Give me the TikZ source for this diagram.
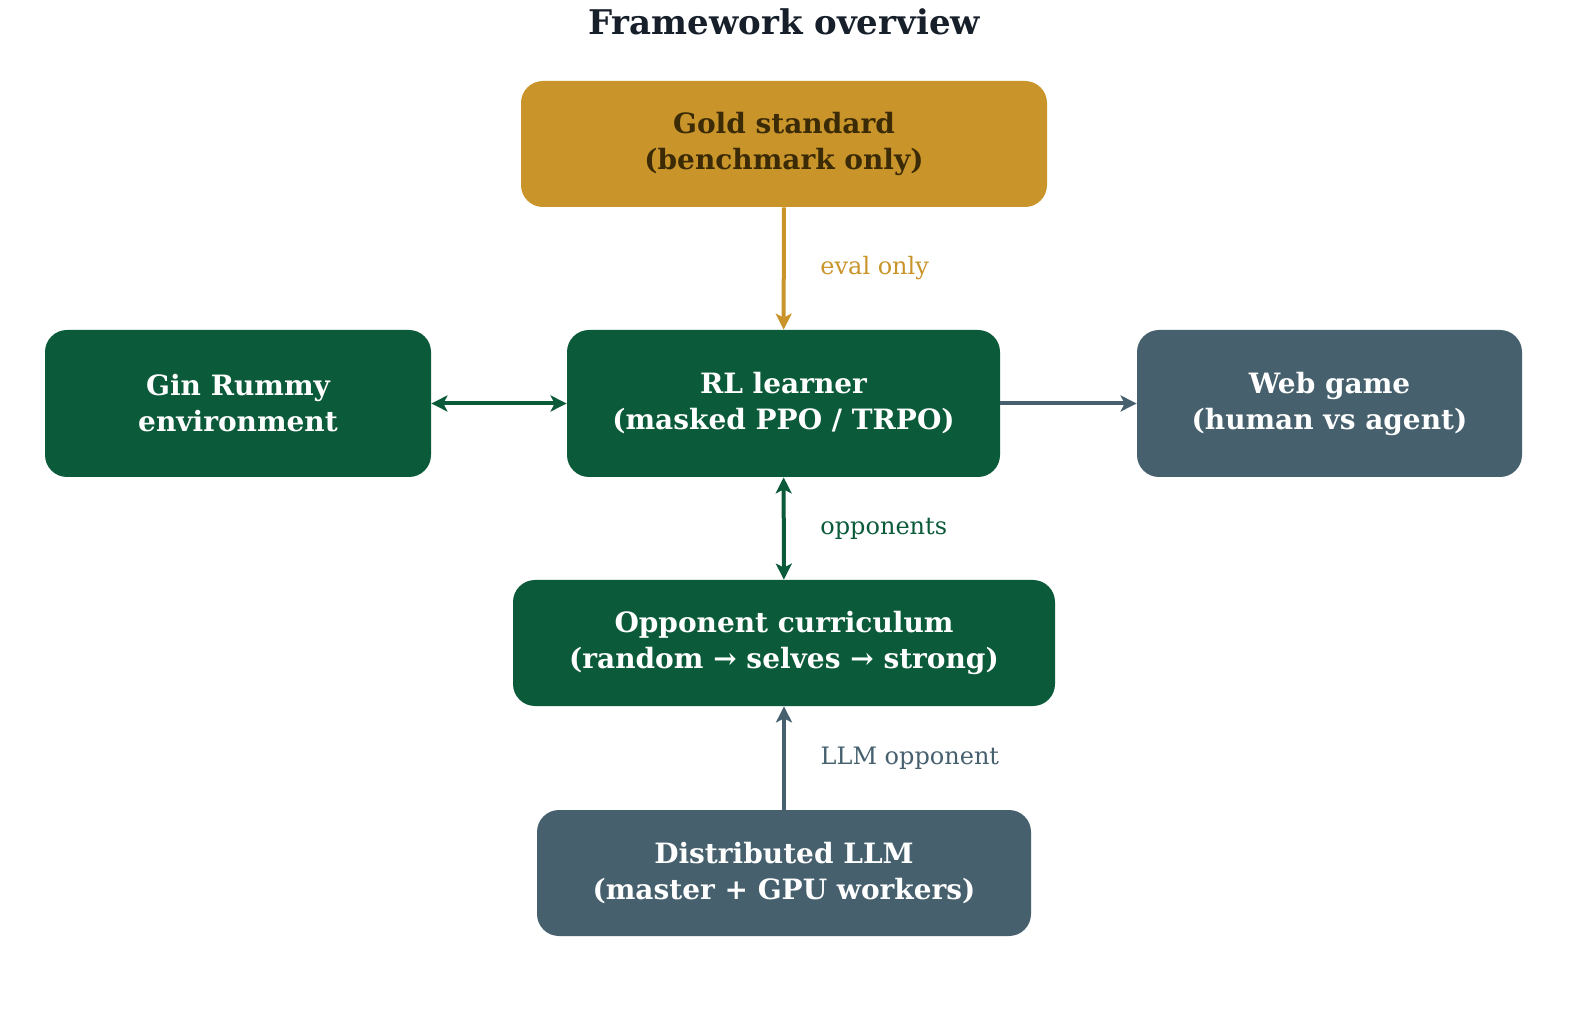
\documentclass[tikz,border=0pt]{standalone}
\usepackage{fontspec}
\setmainfont{DejaVu Serif}
\usetikzlibrary{arrows.meta}
\definecolor{gold}{HTML}{C9952B}
\definecolor{golddark}{HTML}{3A2A05}
\definecolor{dgreen}{HTML}{0B5A39}
\definecolor{slate}{HTML}{46606E}
\definecolor{titlec}{HTML}{17202A}
\tikzset{
  box/.style={rounded corners=11pt, inner sep=0pt, align=center, font=\bfseries\fontsize{14}{18}\selectfont, text=white},
  conn/.style={line width=2pt, -{Stealth[length=8pt,width=8pt,inset=2pt]}},
  lbl/.style={anchor=west, font=\fontsize{12}{14}\selectfont}
}
\begin{document}
\begin{tikzpicture}[x=0.5pt,y=-0.5pt]
\useasboundingbox (0,0) rectangle (1579,1015);
\node[font=\bfseries\fontsize{17}{20}\selectfont, text=titlec] (title) at (784,22) {Framework overview};
\node[box, fill=gold, text=golddark, minimum width=263pt, minimum height=63pt] (gold) at (784,144) {Gold standard\\(benchmark only)};
\node[box, fill=dgreen, minimum width=193pt, minimum height=73.5pt] (gin) at (238,403.5) {Gin Rummy\\environment};
\node[box, fill=dgreen, minimum width=216.5pt, minimum height=73.5pt] (rl) at (783.5,403.5) {RL learner\\(masked PPO / TRPO)};
\node[box, fill=slate, minimum width=192.5pt, minimum height=73.5pt] (web) at (1329.5,403.5) {Web game\\(human vs agent)};
\node[box, fill=dgreen, minimum width=271pt, minimum height=63pt] (opp) at (784,643) {Opponent curriculum\\(random → selves → strong)};
\node[box, fill=slate, minimum width=247pt, minimum height=63pt] (llm) at (784,873) {Distributed LLM\\(master + GPU workers)};
\draw[conn, gold] (gold) -- (rl) node[midway, lbl, text=gold, xshift=14pt] (l1) {eval only};
\draw[conn, dgreen, {Stealth[length=8pt,width=8pt,inset=2pt]}-{Stealth[length=8pt,width=8pt,inset=2pt]}] (gin) -- (rl);
\draw[conn, slate] (rl) -- (web);
\draw[conn, dgreen, {Stealth[length=8pt,width=8pt,inset=2pt]}-{Stealth[length=8pt,width=8pt,inset=2pt]}] (rl) -- (opp) node[midway, lbl, text=dgreen, xshift=14pt] (l2) {opponents};
\draw[conn, slate] (llm) -- (opp) node[midway, lbl, text=slate, xshift=14pt] (l3) {LLM opponent};
\end{tikzpicture}
\end{document}
